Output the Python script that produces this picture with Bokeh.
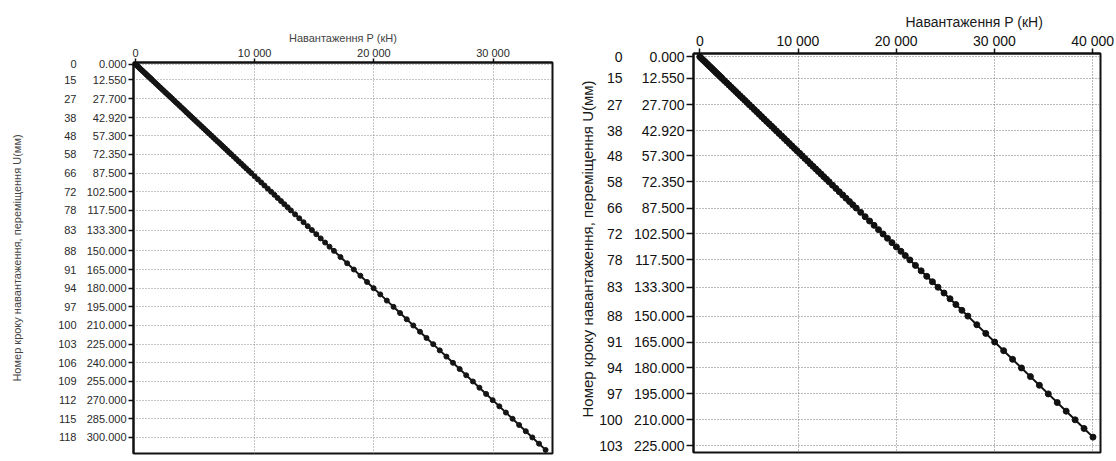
from bokeh.plotting import figure
from bokeh.models import FixedTicker, LinearAxis, Range1d, NumeralTickFormatter, Title
from bokeh.embed import file_html
from bokeh.resources import INLINE

# ---- tick rows: load step number and displacement U (mm) ----
tick_steps_left = [0, 15, 27, 38, 48, 58, 66, 72, 78, 83, 88, 91, 94, 97, 100, 103, 106, 109, 112, 115, 118]
tick_u_left = [0.0, 12.55, 27.7, 42.92, 57.3, 72.35, 87.5, 102.5, 117.5, 133.3, 150.0, 165.0, 180.0,
               195.0, 210.0, 225.0, 240.0, 255.0, 270.0, 285.0, 300.0]
tick_steps_right = [0, 15, 27, 38, 48, 58, 66, 72, 78, 83, 88, 91, 94, 97, 100, 103]
tick_u_right = [0.0, 12.55, 27.7, 42.92, 57.3, 72.35, 87.5, 102.5, 117.5, 133.3, 150.0, 165.0, 180.0,
                195.0, 210.0, 225.0]

# ---- load P (kN) tick labels ----
p_ticks_left = [0, 10000, 20000, 30000]
p_ticks_right = [0, 10000, 20000, 30000, 40000]
p_tick_labels = ["0", "10 000", "20 000", "30 000", "40 000"]

# ---- per-step displacement U (mm), left chart (steps 0..120) ----
u_steps_left = [
    0.0, 0.84, 1.67, 2.51, 3.35, 4.18, 5.02, 5.86, 6.69, 7.53, 8.37, 9.20, 10.04, 10.88, 11.71, 12.55,
    13.81, 15.08, 16.34, 17.60, 18.86, 20.13, 21.39, 22.65, 23.91, 25.18, 26.44, 27.70,
    29.08, 30.47, 31.85, 33.23, 34.62, 36.00, 37.39, 38.77, 40.15, 41.54, 42.92,
    44.36, 45.80, 47.23, 48.67, 50.11, 51.55, 52.99, 54.42, 55.86, 57.30,
    58.81, 60.31, 61.82, 63.32, 64.83, 66.33, 67.84, 69.34, 70.85, 72.35,
    74.24, 76.14, 78.03, 79.93, 81.82, 83.71, 85.61, 87.50,
    90.0, 92.5, 95.0, 97.5, 100.0, 102.5, 105.0, 107.5, 110.0, 112.5, 115.0, 117.5,
    120.66, 123.82, 126.98, 130.14, 133.3, 136.64, 139.98, 143.32, 146.66, 150.0,
    155.0, 160.0, 165.0, 170.0, 175.0, 180.0, 185.0, 190.0, 195.0, 200.0, 205.0, 210.0,
    215.0, 220.0, 225.0, 230.0, 235.0, 240.0, 245.0, 250.0, 255.0, 260.0, 265.0, 270.0,
    275.0, 280.0, 285.0, 290.0, 295.0, 300.0, 305.0, 310.0]
# ---- per-step load P (kN), left chart ----
p_steps_left = [
    0, 90, 190, 280, 370, 460, 560, 650, 740, 840, 930, 1020, 1110, 1210, 1300, 1390,
    1530, 1670, 1810, 1950, 2090, 2230, 2370, 2510, 2650, 2800, 2940, 3080,
    3230, 3380, 3540, 3690, 3840, 4000, 4150, 4300, 4460, 4610, 4760,
    4920, 5080, 5240, 5400, 5560, 5720, 5880, 6040, 6200, 6360,
    6530, 6690, 6860, 7030, 7200, 7360, 7530, 7700, 7860, 8030,
    8240, 8450, 8660, 8870, 9080, 9290, 9500, 9710,
    9990, 10270, 10550, 10820, 11100, 11380, 11660, 11930, 12210, 12490, 12770, 13040,
    13390, 13740, 14100, 14450, 14800, 15170, 15540, 15910, 16280, 16650,
    17200, 17760, 18320, 18870, 19430, 19980, 20540, 21090, 21650, 22200, 22760, 23310,
    23870, 24420, 24980, 25530, 26090, 26640, 27200, 27750, 28310, 28860, 29420, 29970,
    30530, 31080, 31640, 32190, 32750, 33300, 33860, 34410]

# ---- per-step displacement U (mm), right chart (steps 0..102) ----
u_steps_right = [
    0.0, 0.84, 1.67, 2.51, 3.35, 4.18, 5.02, 5.86, 6.69, 7.53, 8.37, 9.20, 10.04, 10.88, 11.71, 12.55,
    13.81, 15.08, 16.34, 17.60, 18.86, 20.13, 21.39, 22.65, 23.91, 25.18, 26.44, 27.70,
    29.08, 30.47, 31.85, 33.23, 34.62, 36.00, 37.39, 38.77, 40.15, 41.54, 42.92,
    44.36, 45.80, 47.23, 48.67, 50.11, 51.55, 52.99, 54.42, 55.86, 57.30,
    58.81, 60.31, 61.82, 63.32, 64.83, 66.33, 67.84, 69.34, 70.85, 72.35,
    74.24, 76.14, 78.03, 79.93, 81.82, 83.71, 85.61, 87.50,
    90.0, 92.5, 95.0, 97.5, 100.0, 102.5, 105.0, 107.5, 110.0, 112.5, 115.0, 117.5,
    120.66, 123.82, 126.98, 130.14, 133.3, 136.64, 139.98, 143.32, 146.66, 150.0,
    155.0, 160.0, 165.0, 170.0, 175.0, 180.0, 185.0, 190.0, 195.0, 200.0, 205.0, 210.0,
    215.0, 220.0]
# ---- per-step load P (kN), right chart ----
p_steps_right = [
    0, 150, 300, 460, 610, 760, 910, 1070, 1220, 1370, 1520, 1670, 1830, 1980, 2130, 2280,
    2510, 2740, 2970, 3200, 3430, 3660, 3890, 4120, 4350, 4580, 4810, 5040,
    5290, 5550, 5800, 6050, 6300, 6550, 6800, 7060, 7310, 7560, 7810,
    8070, 8340, 8600, 8860, 9120, 9380, 9640, 9900, 10170, 10430,
    10700, 10980, 11250, 11520, 11800, 12070, 12350, 12620, 12900, 13170,
    13510, 13860, 14200, 14550, 14890, 15240, 15580, 15930,
    16380, 16840, 17290, 17750, 18200, 18660, 19110, 19570, 20020, 20480, 20930, 21390,
    21960, 22540, 23110, 23690, 24260, 24870, 25480, 26080, 26690, 27300,
    28210, 29120, 30030, 30940, 31850, 32760, 33670, 34580, 35490, 36400, 37310, 38220,
    39130, 40040]

X_TITLE = "Навантаження P (кН)"
Y_TITLE = "Номер кроку навантаження, переміщення U(мм)"
FONT = "Liberation Sans"


def base_fig(width, x_range, y_range, mb_left, mb_right, mb_top, mb_bottom, title=None):
    p = figure(width=width, height=461, x_range=x_range, y_range=y_range,
               x_axis_location="above", y_axis_location="left",
               output_backend="svg", toolbar_location=None, title=title,
               min_border_left=mb_left, min_border_right=mb_right,
               min_border_top=mb_top, min_border_bottom=mb_bottom)
    p.outline_line_color = "#111111"
    p.outline_line_width = 2
    p.border_fill_color = "white"
    p.background_fill_color = "white"
    return p


def style_axis(ax, size, color, tick_out, standoff):
    ax.axis_line_color = "#111111"
    ax.axis_line_width = 2
    ax.major_tick_line_color = "#111111"
    ax.major_tick_line_width = 1.5
    ax.major_tick_out = tick_out
    ax.major_tick_in = 0
    ax.minor_tick_line_color = None
    ax.major_label_standoff = standoff
    ax.major_label_text_font = FONT
    ax.major_label_text_font_size = size
    ax.major_label_text_color = color
    ax.axis_label_text_font = FONT
    ax.axis_label_text_font_style = "normal"


def style_grid(p, xt, yt, color):
    p.xgrid.ticker = FixedTicker(ticks=xt)
    p.ygrid.ticker = FixedTicker(ticks=yt)
    for g in (p.xgrid[0], p.ygrid[0]):
        g.grid_line_color = color
        g.grid_line_dash = "1 2"
        g.grid_line_width = 1


# ================= LEFT CHART =================
pl = base_fig(560, Range1d(-168, 34990), Range1d(312.9, -1.4), 133, 8, 62, 8)
xa = pl.xaxis[0]
style_axis(xa, "11px", "#2a2a2a", 4, 0)
xa.ticker = FixedTicker(ticks=p_ticks_left)
xa.major_label_overrides = {t: lab for t, lab in zip(p_ticks_left, p_tick_labels)}
xa.axis_label = X_TITLE
xa.axis_label_text_font_size = "11px"
xa.axis_label_text_color = "#444444"
xa.axis_label_standoff = 0

ya = pl.yaxis[0]
style_axis(ya, "11px", "#2a2a2a", 5, 2)
ya.ticker = FixedTicker(ticks=tick_u_left)
ya.formatter = NumeralTickFormatter(format="0.000")

sa = LinearAxis(ticker=FixedTicker(ticks=tick_u_left))
style_axis(sa, "11px", "#2a2a2a", 0, 7)
sa.axis_line_color = None
sa.major_tick_line_color = None
sa.major_label_overrides = {u: str(s) for u, s in zip(tick_u_left, tick_steps_left)}
sa.axis_label = Y_TITLE
sa.axis_label_text_font_size = "11px"
sa.axis_label_text_color = "#444444"
sa.axis_label_standoff = 32
pl.add_layout(sa, "left")

style_grid(pl, p_ticks_left[1:], tick_u_left, "#8a8a8a")
pl.line(p_steps_left, u_steps_left, line_color="#151515", line_width=2)
pl.scatter(p_steps_left, u_steps_left, size=5, color="#151515")

# ================= RIGHT CHART =================
pr = base_fig(556, Range1d(-642, 40805), Range1d(228.9, -1.9), 133, 16, 53, 9, title=X_TITLE)
pr.title.align = "left"
pr.title.offset = 212
pr.title.standoff = 0
pr.title.text_font = FONT
pr.title.text_font_size = "14px"
pr.title.text_font_style = "normal"
pr.title.text_color = "#1a1a1a"

xb = pr.xaxis[0]
style_axis(xb, "14px", "#111111", 5, 0)
xb.ticker = FixedTicker(ticks=p_ticks_right)
xb.major_label_overrides = {t: lab for t, lab in zip(p_ticks_right, p_tick_labels)}

yb = pr.yaxis[0]
style_axis(yb, "14px", "#111111", 7, 2)
yb.ticker = FixedTicker(ticks=tick_u_right)
yb.formatter = NumeralTickFormatter(format="0.000")

sb = LinearAxis(ticker=FixedTicker(ticks=tick_u_right))
style_axis(sb, "14px", "#111111", 0, 8)
sb.axis_line_color = None
sb.major_tick_line_color = None
sb.major_label_overrides = {u: str(s) for u, s in zip(tick_u_right, tick_steps_right)}
pr.add_layout(sb, "left")

ytitle = Title(text=Y_TITLE, align="left", offset=35, standoff=2,
               text_font=FONT, text_font_size="15px", text_font_style="normal",
               text_color="#1a1a1a")
pr.add_layout(ytitle, "left")

style_grid(pr, p_ticks_right[1:], tick_u_right, "#777777")
pr.line(p_steps_right, u_steps_right, line_color="#111111", line_width=2)
pr.scatter(p_steps_right, u_steps_right, size=6, color="#111111")

# two independent roots laid side by side (no frame alignment between them)
TEMPLATE = """
{% block postamble %}
<style>
  html, body { margin: 0 !important; padding: 0 !important; }
  body { display: flex !important; flex-direction: row !important; align-items: flex-start !important; }
</style>
{% endblock %}
"""
open("out.html", "w").write(file_html([pl, pr], INLINE, template=TEMPLATE))
